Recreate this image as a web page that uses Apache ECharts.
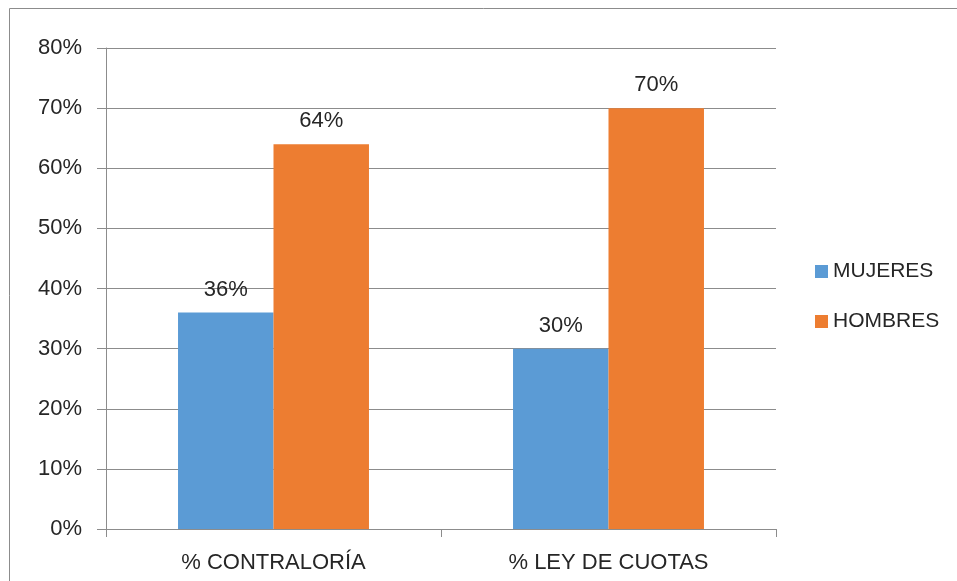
<!DOCTYPE html>
<html>
<head>
<meta charset="utf-8">
<script src="https://cdn.jsdelivr.net/npm/echarts@6/dist/echarts.min.js"></script>
<style>
  html, body { margin: 0; padding: 0; background: #fff; }
  #chart { width: 957px; height: 581px; }
</style>
</head>
<body>
<div id="chart"></div>
<script>
  // datos
  var categorias = ['% CONTRALORÍA', '% LEY DE CUOTAS'];
  var mujeres = [0.36, 0.30];
  var hombres = [0.64, 0.70];

  var fuente = 'Liberation Sans';
  var chart = echarts.init(document.getElementById('chart'));

  var etiqueta = {
    show: true,
    position: 'top',
    distance: 12,
    fontFamily: fuente,
    fontSize: 22,
    color: '#262626',
    formatter: function (p) { return Math.round(p.value * 100) + '%'; }
  };

  chart.setOption({
    animation: false,
    textStyle: { fontFamily: fuente },
    graphic: [{
      type: 'rect',
      shape: { x: 9.5, y: 8.5, width: 960, height: 590 },
      style: { fill: 'none', stroke: '#8c8c8c', lineWidth: 1 },
      silent: true
    }],
    legend: {
      orient: 'vertical',
      left: 810,
      top: 256,
      itemWidth: 13,
      itemHeight: 13,
      itemGap: 29,
      icon: 'rect',
      textStyle: { fontFamily: fuente, fontSize: 21, color: '#262626' },
      data: ['MUJERES', 'HOMBRES']
    },
    grid: { left: 106, right: 181, top: 48, bottom: 52 },
    xAxis: {
      type: 'category',
      data: categorias,
      axisLine: { lineStyle: { color: '#8c8c8c' } },
      axisTick: { show: true, length: 8, lineStyle: { color: '#8c8c8c' } },
      axisLabel: { margin: 23, fontFamily: fuente, fontSize: 22, color: '#262626' }
    },
    yAxis: {
      type: 'value',
      min: 0,
      max: 0.8,
      interval: 0.1,
      axisLine: { show: true, lineStyle: { color: '#8c8c8c' } },
      axisTick: { show: true, length: 9, lineStyle: { color: '#8c8c8c' } },
      splitLine: { lineStyle: { color: '#8c8c8c' } },
      axisLabel: {
        margin: 24,
        fontFamily: fuente,
        fontSize: 22,
        color: '#262626',
        formatter: function (v) { return Math.round(v * 100) + '%'; }
      }
    },
    series: [
      {
        name: 'MUJERES',
        type: 'bar',
        data: mujeres,
        itemStyle: { color: '#5B9BD5' },
        barGap: '0%',
        barCategoryGap: '43%',
        label: etiqueta
      },
      {
        name: 'HOMBRES',
        type: 'bar',
        data: hombres,
        itemStyle: { color: '#ED7D31' },
        barGap: '0%',
        barCategoryGap: '43%',
        label: etiqueta
      }
    ]
  });
</script>
</body>
</html>
